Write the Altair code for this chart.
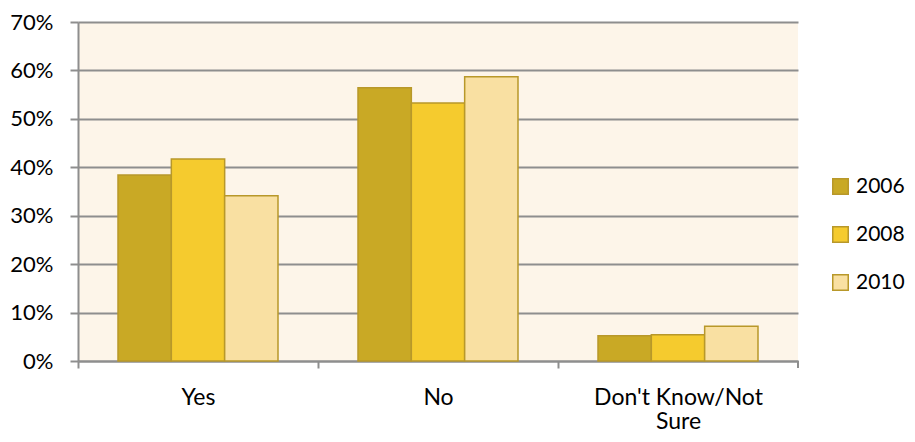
import altair as alt
import pandas as pd

categories = ["Yes", "No", "Don't Know/Not Sure"]
years = ["2006", "2008", "2010"]
values_2006 = [0.384, 0.564, 0.052]
values_2008 = [0.417, 0.533, 0.054]
values_2010 = [0.341, 0.587, 0.072]
y_ticks = [0, 0.1, 0.2, 0.3, 0.4, 0.5, 0.6, 0.7]
colors = ["#C9A925", "#F5CB2E", "#F9E0A2"]

rows = []
for yr, vals in zip(years, [values_2006, values_2008, values_2010]):
    for c, v in zip(categories, vals):
        rows.append({"category": c, "year": yr, "value": v})
df = pd.DataFrame(rows)

FONT = "Lato"
GRID = "#8E8E8E"

bars = alt.Chart(df).mark_bar(stroke="#B8982A", strokeWidth=1.5).encode(
    x=alt.X(
        "category:N",
        sort=categories,
        scale=alt.Scale(paddingInner=0, paddingOuter=0),
        axis=alt.Axis(
            title=None,
            labelAngle=0,
            labelFontSize=23,
            labelColor="black",
            labelFont=FONT,
            labelPadding=18,
            labelLineHeight=24,
            labelLimit=0,
            tickOffset=-120,
            labelOffset=120,
            tickSize=7,
            tickColor=GRID,
            tickWidth=2,
            domainColor=GRID,
            domainWidth=2,
            grid=False,
            labelExpr="datum.label == \"Don't Know/Not Sure\" ? [\"Don't Know/Not\", 'Sure'] : datum.label",
        ),
    ),
    xOffset=alt.XOffset(
        "year:N", sort=years, scale=alt.Scale(paddingInner=0, paddingOuter=0.75)
    ),
    y=alt.Y(
        "value:Q",
        scale=alt.Scale(domain=[0, 0.7], nice=False),
        axis=alt.Axis(
            title=None,
            format=".0%",
            values=y_ticks,
            labelFontSize=22,
            labelColor="black",
            labelFont=FONT,
            labelPadding=17,
            tickSize=8,
            tickColor=GRID,
            tickWidth=2,
            domainColor=GRID,
            domainWidth=2,
            gridColor=GRID,
            gridWidth=2,
        ),
    ),
    fill=alt.Fill(
        "year:N",
        sort=years,
        scale=alt.Scale(domain=years, range=colors),
        legend=alt.Legend(
            title=None,
            orient="none",
            legendX=752,
            legendY=154,
            symbolType="square",
            symbolSize=240,
            symbolStrokeColor="#B8982A",
            symbolStrokeWidth=1.5,
            labelFontSize=21,
            labelFont=FONT,
            labelColor="black",
            labelOffset=5,
            labelLimit=0,
            rowPadding=25,
        ),
    ),
)

end_tick = alt.Chart(df).mark_rule(color=GRID, strokeWidth=2).encode(
    x=alt.value(720), y=alt.value(339), y2=alt.value(346)
)

chart = (
    alt.layer(bars, end_tick)
    .properties(
        width=720,
        height=339,
        autosize=alt.AutoSizeParams(type="none"),
        padding={"left": 70, "top": 14, "right": 108, "bottom": 71},
    )
    .configure_view(fill="#FDF5E9", stroke=None)
)

chart.save("out.html", embed_options={"renderer": "svg", "actions": False})
